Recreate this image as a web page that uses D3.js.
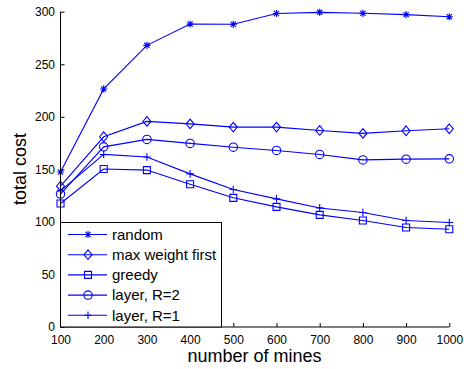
<!DOCTYPE html>
<html>
<head>
<meta charset="utf-8">
<script src="https://cdn.jsdelivr.net/npm/d3@7"></script>
<style>
  html, body { margin: 0; padding: 0; background: #fff; }
  svg { display: block; font-family: "Liberation Sans", Arial, Helvetica, sans-serif; }
</style>
</head>
<body>
<svg id="chart" width="464" height="369"></svg>
<script>
// Number of mines on the x axis
const mines = [100, 200, 300, 400, 500, 600, 700, 800, 900, 1000];

// Total cost per strategy
const randomCost    = [147.5, 226.5, 268, 288.3, 288, 298.3, 299.4, 298.5, 297.2, 295.2];
const maxWeightCost = [134, 181, 195.6, 193.3, 190.2, 190.2, 187, 184.2, 186.7, 188.6];
const greedyCost    = [117.5, 150.3, 149.3, 135.8, 122.9, 114.3, 106.7, 101.3, 94.7, 93];
const layerR2Cost   = [126.5, 171.4, 178.5, 174.7, 171.1, 168, 164.2, 159, 159.7, 160];
const layerR1Cost   = [129.5, 164.2, 161.8, 145.7, 130.8, 121.9, 113.3, 108.9, 101.3, 99.4];

const seriesNames   = ["random", "max weight first", "greedy", "layer, R=2", "layer, R=1"];
const seriesMarkers = ["asterisk", "diamond", "square", "circle", "plus"];
const seriesValues  = [randomCost, maxWeightCost, greedyCost, layerR2Cost, layerR1Cost];

const xTicks = [100, 200, 300, 400, 500, 600, 700, 800, 900, 1000];
const yTicks = [0, 50, 100, 150, 200, 250, 300];

const blue = "#0000ff";
const svg = d3.select("#chart");

const x = d3.scaleLinear().domain([100, 1000]).range([60.5, 449.3]);
const y = d3.scaleLinear().domain([0, 300]).range([327, 11.7]);

// Marker shapes, drawn as paths centred on the origin
function markerPath(kind) {
  const p = d3.path();
  if (kind === "asterisk") {
    const r = 3.6;
    p.moveTo(-r, 0); p.lineTo(r, 0);
    p.moveTo(0, -r); p.lineTo(0, r);
    const d = r * 0.72;
    p.moveTo(-d, -d); p.lineTo(d, d);
    p.moveTo(-d, d); p.lineTo(d, -d);
  } else if (kind === "diamond") {
    p.moveTo(0, -4.8); p.lineTo(4, 0); p.lineTo(0, 4.8); p.lineTo(-4, 0); p.closePath();
  } else if (kind === "square") {
    p.rect(-3.5, -3.5, 7, 7);
  } else if (kind === "circle") {
    p.arc(0, 0, 4.2, 0, 2 * Math.PI);
  } else if (kind === "plus") {
    const r = 3.8;
    p.moveTo(-r, 0); p.lineTo(r, 0);
    p.moveTo(0, -r); p.lineTo(0, r);
  }
  return p.toString();
}

// Series lines and markers
const line = d3.line().x((d, i) => x(mines[i])).y(d => y(d));
const plot = svg.append("g");
seriesValues.forEach((vals, s) => {
  plot.append("path")
    .attr("d", line(vals))
    .attr("fill", "none")
    .attr("stroke", blue)
    .attr("stroke-width", 1.1);
  plot.selectAll(null)
    .data(vals)
    .enter()
    .append("path")
    .attr("transform", (d, i) => `translate(${x(mines[i])},${y(d)})`)
    .attr("d", markerPath(seriesMarkers[s]))
    .attr("fill", "none")
    .attr("stroke", blue)
    .attr("stroke-width", 1.1);
});

// Axes: ticks point inward
const xAxis = d3.axisBottom(x).tickValues(xTicks).tickSize(-4).tickPadding(8).tickFormat(d3.format("d"));
const yAxis = d3.axisLeft(y).tickValues(yTicks).tickSize(-4).tickPadding(5.5).tickFormat(d3.format("d"));

const gx = svg.append("g").attr("transform", "translate(0,327)").call(xAxis);
gx.select(".domain").attr("stroke", "#000").attr("d", `M${x(100)},0H${x(1000)}`);
gx.selectAll(".tick line").attr("stroke", "#000");
gx.selectAll(".tick text").attr("font-size", 12).attr("fill", "#000")
  .attr("font-family", "Liberation Sans, Arial, sans-serif");

const gy = svg.append("g").attr("transform", "translate(60.5,0)").call(yAxis);
gy.select(".domain").attr("stroke", "#000").attr("d", `M0,${y(0)}V${y(300)}`);
gy.selectAll(".tick line").attr("stroke", "#000");
gy.selectAll(".tick text").attr("font-size", 12).attr("fill", "#000")
  .attr("font-family", "Liberation Sans, Arial, sans-serif");

// Axis titles
svg.append("text")
  .attr("x", 254.5).attr("y", 362)
  .attr("text-anchor", "middle")
  .attr("font-size", 18)
  .text("number of mines");

svg.append("text")
  .attr("transform", "translate(26,169) rotate(-90)")
  .attr("text-anchor", "middle")
  .attr("font-size", 18)
  .text("total cost");

// Legend
const legend = svg.append("g");
legend.append("rect")
  .attr("x", 60.5).attr("y", 222.5)
  .attr("width", 161).attr("height", 104.5)
  .attr("fill", "#fff").attr("stroke", "#000").attr("stroke-width", 1);

seriesNames.forEach((name, s) => {
  const cy = 234.5 + s * 20.2;
  const row = legend.append("g").attr("transform", `translate(0,${cy})`);
  row.append("line")
    .attr("x1", 68).attr("x2", 107).attr("y1", 0).attr("y2", 0)
    .attr("stroke", blue).attr("stroke-width", 1.1);
  row.append("path")
    .attr("transform", "translate(88,0)")
    .attr("d", markerPath(seriesMarkers[s]))
    .attr("fill", "none").attr("stroke", blue).attr("stroke-width", 1.1);
  row.append("text")
    .attr("x", 112).attr("y", 0).attr("dy", "0.35em")
    .attr("font-size", 15)
    .text(name);
});
</script>
</body>
</html>
